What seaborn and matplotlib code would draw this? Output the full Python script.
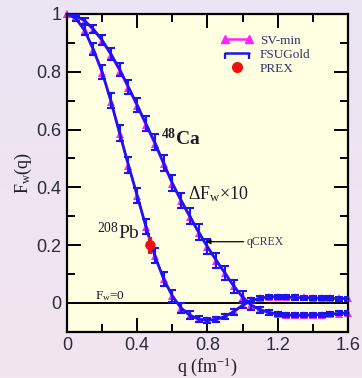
import numpy as np
import pandas as pd
import matplotlib
matplotlib.use("Agg")
import matplotlib.pyplot as plt
import seaborn as sns
from matplotlib.lines import Line2D
from matplotlib.legend_handler import HandlerLine2D
from matplotlib.colors import LinearSegmentedColormap
from matplotlib.ticker import MultipleLocator, FixedLocator, FixedFormatter

# momentum transfer grid (fm^-1)
q = [0.00, 0.05, 0.10, 0.15, 0.20, 0.25, 0.30, 0.35, 0.40, 0.45, 0.50,
     0.55, 0.60, 0.65, 0.70, 0.75, 0.80, 0.85, 0.90, 0.95, 1.00, 1.05,
     1.10, 1.15, 1.20, 1.25, 1.30, 1.35, 1.40, 1.45, 1.50, 1.55, 1.60]

# weak form factors, 48Ca
ca_fsu = [1.000, 0.994, 0.977, 0.948, 0.910, 0.862, 0.808, 0.748, 0.685, 0.620, 0.556,
          0.485, 0.415, 0.355, 0.300, 0.245, 0.195, 0.148, 0.103, 0.058, 0.020, -0.008,
          -0.024, -0.033, -0.038, -0.041, -0.042, -0.042, -0.041, -0.040, -0.038, -0.036, -0.034]
ca_sv = [1.000, 0.994, 0.976, 0.946, 0.907, 0.859, 0.804, 0.744, 0.681, 0.616, 0.551,
         0.481, 0.412, 0.352, 0.297, 0.243, 0.193, 0.147, 0.103, 0.059, 0.022, -0.006,
         -0.022, -0.032, -0.038, -0.042, -0.043, -0.043, -0.042, -0.041, -0.039, -0.037, -0.035]
ca_err10 = [0.000, 0.006, 0.010, 0.014, 0.017, 0.020, 0.022, 0.024, 0.025, 0.026, 0.027,
            0.027, 0.027, 0.027, 0.027, 0.027, 0.027, 0.026, 0.025, 0.023, 0.020, 0.015,
            0.011, 0.009, 0.008, 0.007, 0.007, 0.007, 0.007, 0.007, 0.007, 0.007, 0.007]

# weak form factors, 208Pb
pb_fsu = [1.000, 0.985, 0.944, 0.878, 0.800, 0.700, 0.588, 0.478, 0.372, 0.264, 0.164,
          0.084, 0.024, -0.018, -0.043, -0.056, -0.060, -0.057, -0.047, -0.030, -0.008, 0.008,
          0.017, 0.021, 0.021, 0.020, 0.019, 0.018, 0.017, 0.016, 0.016, 0.015, 0.015]
pb_sv = [1.000, 0.985, 0.943, 0.876, 0.797, 0.697, 0.585, 0.475, 0.369, 0.262, 0.163,
         0.084, 0.025, -0.016, -0.041, -0.055, -0.059, -0.056, -0.046, -0.029, -0.008, 0.009,
         0.018, 0.022, 0.022, 0.021, 0.020, 0.019, 0.018, 0.017, 0.017, 0.016, 0.016]
pb_err10 = [0.000, 0.010, 0.017, 0.021, 0.024, 0.026, 0.027, 0.027, 0.027, 0.027, 0.026,
            0.024, 0.022, 0.018, 0.014, 0.011, 0.009, 0.008, 0.009, 0.010, 0.010, 0.009,
            0.008, 0.007, 0.007, 0.007, 0.007, 0.007, 0.007, 0.007, 0.007, 0.007, 0.007]

# PREX measurement
prex_q = [0.475]
prex_f = [0.20]
prex_err = [0.03]

x_ticks = [0.0, 0.4, 0.8, 1.2, 1.6]
x_labels = ["0", "0.4", "0.8", "1.2", "1.6"]
y_ticks = [0.0, 0.2, 0.4, 0.6, 0.8, 1.0]
y_labels = ["0", "0.2", "0.4", "0.6", "0.8", "1"]

sns.set_theme(style="ticks")
plt.rcParams.update({
    "font.family": ["Liberation Serif", "DejaVu Serif"],
    "mathtext.fontset": "custom",
    "mathtext.rm": "Liberation Serif",
    "mathtext.it": "Liberation Serif:italic",
    "mathtext.bf": "Liberation Serif:bold",
})

MAG = "#ff22ff"
BLUE = "#1a14f0"
TXT = "#1c1c2a"

fig = plt.figure(figsize=(3.62, 3.78), dpi=100)

# soft lavender page background
bg = fig.add_axes([0, 0, 1, 1], zorder=-10)
cmap = LinearSegmentedColormap.from_list("page", ["#ebe4f4", "#f3e5ef"])
bg.imshow(np.linspace(0, 1, 256).reshape(-1, 1), aspect="auto", cmap=cmap,
          extent=[0, 1, 0, 1], origin="upper")
bg.set_axis_off()

ax = fig.add_axes([0.185, 0.122, 0.776, 0.841])
ax.set_facecolor("#ffffe2")

df = pd.DataFrame({"q": q, "ca_fsu": ca_fsu, "ca_sv": ca_sv,
                   "pb_fsu": pb_fsu, "pb_sv": pb_sv,
                   "ca_err": ca_err10, "pb_err": pb_err10})

ax.axhline(0, color="black", lw=1.4, zorder=1)

for col in ["ca_sv", "pb_sv"]:
    sns.lineplot(data=df, x="q", y=col, ax=ax, color=MAG, lw=1.8,
                 marker="^", markersize=5.6, markeredgewidth=0, zorder=2,
                 clip_on=False)

for col, ecol in [("ca_fsu", "ca_err"), ("pb_fsu", "pb_err")]:
    sns.lineplot(data=df, x="q", y=col, ax=ax, color=BLUE, lw=1.9, zorder=3)
    ax.errorbar(df["q"], df[col], yerr=df[ecol], fmt="none", ecolor=BLUE,
                elinewidth=1.5, capsize=3, capthick=1.5, zorder=3)

ax.errorbar(prex_q, prex_f, yerr=prex_err, fmt="none", ecolor="#ee1111",
            elinewidth=3, capsize=0, zorder=4)
sns.scatterplot(x=prex_q, y=prex_f, ax=ax, color="#ee1111", s=55,
                edgecolor="none", zorder=5)

ax.set_xlim(0, 1.6)
ax.set_ylim(-0.1, 1.0)

ax.xaxis.set_major_locator(FixedLocator(x_ticks))
ax.xaxis.set_major_formatter(FixedFormatter(x_labels))
ax.xaxis.set_minor_locator(MultipleLocator(0.2))
ax.yaxis.set_major_locator(FixedLocator(y_ticks))
ax.yaxis.set_major_formatter(FixedFormatter(y_labels))
ax.yaxis.set_minor_locator(MultipleLocator(0.1))
ax.tick_params(which="both", direction="in", top=True, right=True,
               color="black", width=1.4)
ax.tick_params(which="major", length=10, pad=4)
ax.tick_params(which="minor", length=6)
for lab in ax.get_xticklabels() + ax.get_yticklabels():
    lab.set_fontfamily("Liberation Sans")
    lab.set_fontsize(13)
    lab.set_color("#2a2a3a")
for s in ax.spines.values():
    s.set_linewidth(1.6)
    s.set_color("black")

ax.set_xlabel("q (fm$^{\\mathrm{-1}}$)", fontsize=13, color=TXT, labelpad=1)
ax.set_ylabel("F$_{\\mathrm{w}}$(q)", fontsize=13, color=TXT, labelpad=2)

ax.text(0.535, 0.545, "$^{\\mathbf{48}}$Ca", fontsize=14, fontweight="bold", color=TXT)
ax.text(0.17, 0.22, "$^{208}$Pb", fontsize=14, color=TXT)
ax.text(0.69, 0.36, "$\\Delta$F$_{\\mathrm{w}}$×10", fontsize=13, color=TXT)
ax.text(0.16, 0.012, "F$_{\\mathrm{w}}$=0", fontsize=9.5, color=TXT)
ax.annotate("qCREX", xy=(0.79, 0.212), xytext=(1.025, 0.212),
            fontsize=8.5, color="#3a3a5a", va="center",
            arrowprops=dict(arrowstyle="-|>", color="black", lw=0.9,
                            mutation_scale=7, shrinkA=0, shrinkB=0))

h_sv = Line2D([0], [0], color=MAG, lw=1.8, marker="^", markersize=6)
h_fsu = Line2D([0], [0], color=BLUE, lw=1.8, marker=3, markersize=4,
               markeredgewidth=1.6)
h_prex = Line2D([0], [0], color="#ee1111", lw=0, marker="o", markersize=7)
leg = ax.legend([h_sv, h_fsu, h_prex], ["SV-min", "FSUGold", "PREX"],
                loc="upper left", bbox_to_anchor=(0.55, 0.935), frameon=False,
                fontsize=9.5, numpoints=2, handlelength=2.4, handletextpad=0.5,
                labelspacing=0.12, borderpad=0, borderaxespad=0,
                handler_map={h_prex: HandlerLine2D(numpoints=1)})
for t in leg.get_texts():
    t.set_color("#33336a")

fig.savefig("out.png", dpi=100)
